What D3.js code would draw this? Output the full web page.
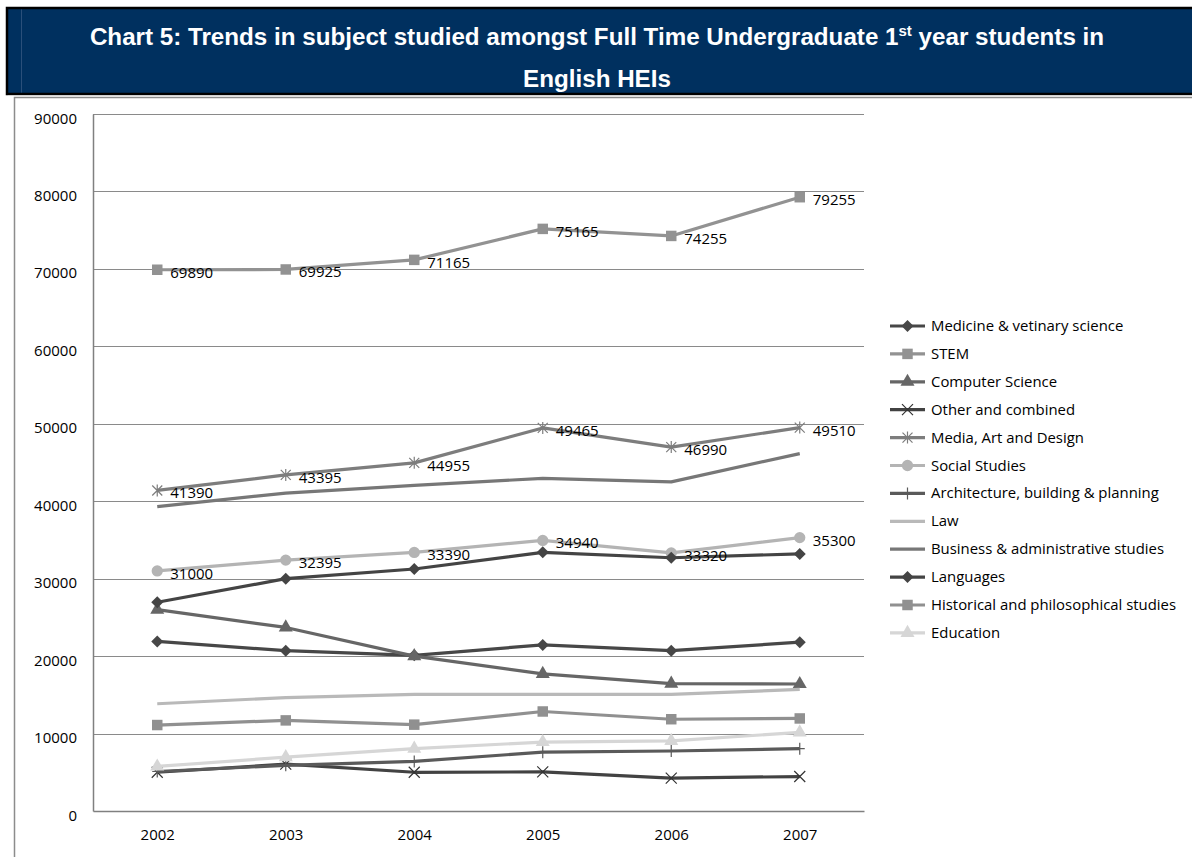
<!DOCTYPE html>
<html>
<head>
<meta charset="utf-8">
<title>Chart 5</title>
<script src="https://cdn.jsdelivr.net/npm/d3@7"></script>
<style>
  html, body { margin: 0; padding: 0; background: #ffffff; }
  svg { display: block; }
  .title { font-family: "Liberation Sans", Arial, sans-serif; font-weight: bold; fill: #ffffff; }
  .tick-label, .data-label, .legend-label { font-family: "Open Sans", "Noto Sans", sans-serif; fill: #000000; }
</style>
</head>
<body>
<div id="chart"></div>
<script>
// ---- data ----
var years = ["2002", "2003", "2004", "2005", "2006", "2007"];
var yTicks = [0, 10000, 20000, 30000, 40000, 50000, 60000, 70000, 80000, 90000];

var medicine     = [21900, 20700, 20100, 21450, 20700, 21800];
var stem         = [69890, 69925, 71165, 75165, 74255, 79255];
var compSci      = [26000, 23700, 20000, 17700, 16450, 16400];
var other        = [5000, 6050, 5000, 5050, 4250, 4450];
var media        = [41390, 43395, 44955, 49465, 46990, 49510];
var social       = [31000, 32395, 33390, 34940, 33320, 35300];
var architecture = [5100, 5900, 6400, 7600, 7750, 8050];
var law          = [13850, 14650, 15050, 15050, 15050, 15700];
var business     = [39300, 41050, 42050, 42950, 42500, 46150];
var languages    = [26950, 30000, 31250, 33400, 32700, 33200];
var historical   = [11100, 11700, 11150, 12850, 11850, 11950];
var education    = [5750, 6950, 8050, 8900, 9050, 10150];

var seriesNames = ["Medicine & vetinary science", "STEM", "Computer Science", "Other and combined",
  "Media, Art and Design", "Social Studies", "Architecture, building & planning", "Law",
  "Business & administrative  studies", "Languages", "Historical and philosophical studies", "Education"];
var seriesValues = [medicine, stem, compSci, other, media, social, architecture, law,
  business, languages, historical, education];
// which series carry value labels
var labelled = ["STEM", "Media, Art and Design", "Social Studies"];

// ---- style per series (grey scale like the office chart) ----
var seriesStyle = {
  "Medicine & vetinary science":          {color: "#474747", marker: "diamond"},
  "STEM":                                 {color: "#929292", marker: "square"},
  "Computer Science":                     {color: "#666666", marker: "triangle"},
  "Other and combined":                   {color: "#424242", marker: "x"},
  "Media, Art and Design":                {color: "#7d7d7d", marker: "star"},
  "Social Studies":                       {color: "#b4b4b4", marker: "circle"},
  "Architecture, building & planning":    {color: "#5a5a5a", marker: "plus"},
  "Law":                                  {color: "#b9b9b9", marker: "none"},
  "Business & administrative  studies":   {color: "#777777", marker: "none"},
  "Languages":                            {color: "#444444", marker: "diamond"},
  "Historical and philosophical studies": {color: "#909090", marker: "square"},
  "Education":                            {color: "#d6d6d6", marker: "triangle"}
};

var width = 1192, height = 857;
var plot = {left: 93, right: 864, top: 114, bottom: 811};

var svg = d3.select("#chart").append("svg")
  .attr("width", width)
  .attr("height", height);

// ---- title banner ----
drawTitle();
function drawTitle(){
  svg.append("rect")
    .attr("x", 7).attr("y", 8)
    .attr("width", width + 10).attr("height", 86)
    .attr("fill", "#00305f")
    .attr("stroke", "#000000")
    .attr("stroke-width", 2.5);
  svg.append("line")
    .attr("x1", 21.5).attr("x2", 21.5)
    .attr("y1", 9.5).attr("y2", 92.5)
    .attr("stroke", "#2a4f7a").attr("stroke-width", 1);
  svg.append("line")
    .attr("x1", 8).attr("x2", width)
    .attr("y1", 95.5).attr("y2", 95.5)
    .attr("stroke", "#d0d0d0").attr("stroke-width", 1);

  var t1 = svg.append("text").attr("class", "title")
    .attr("x", 597).attr("y", 45)
    .attr("text-anchor", "middle")
    .style("font-size", "24.2px");
  t1.append("tspan").text("Chart 5: Trends in subject studied amongst Full Time Undergraduate 1");
  t1.append("tspan").text("st").attr("dy", -9).style("font-size", "15px");
  t1.append("tspan").text(" year students in").attr("dy", 9);

  svg.append("text").attr("class", "title")
    .attr("x", 597).attr("y", 87)
    .attr("text-anchor", "middle")
    .style("font-size", "24.2px")
    .text("English HEIs");
}

// ---- chart frame ----
svg.append("path")
  .attr("d", "M14.5," + height + "V97.5H" + width)
  .attr("fill", "none")
  .attr("stroke", "#8c8c8c")
  .attr("stroke-width", 1.5);

// ---- scales ----
var x = d3.scalePoint()
  .domain(years)
  .range([plot.left, plot.right])
  .padding(0.5);
var y = d3.scaleLinear()
  .domain([0, 90000])
  .range([plot.bottom, plot.top]);

// grid lines
svg.append("g")
  .selectAll("line")
  .data(yTicks.filter(function(d){ return d > 0; }))
  .enter().append("line")
  .attr("x1", plot.left).attr("x2", plot.right)
  .attr("y1", function(d){ return Math.round(y(d)) + 0.5; })
  .attr("y2", function(d){ return Math.round(y(d)) + 0.5; })
  .attr("stroke", "#8a8a8a")
  .attr("stroke-width", 1.2);

// y axis
var yAxis = svg.append("g")
  .attr("transform", "translate(" + plot.left + ",0)")
  .call(d3.axisLeft(y).tickValues(yTicks).tickSize(0).tickPadding(16).tickFormat(d3.format("d")));
yAxis.select(".domain").attr("stroke", "#808080").attr("stroke-width", 1.5);
yAxis.selectAll("text").attr("class", "tick-label").style("font-size", "15px").attr("dy", "0.6em");

// x axis
var xAxis = svg.append("g")
  .attr("transform", "translate(0," + plot.bottom + ")")
  .call(d3.axisBottom(x).tickSize(0).tickPadding(18));
xAxis.select(".domain").attr("stroke", "#808080").attr("stroke-width", 1.5);
xAxis.selectAll("text").attr("class", "tick-label").style("font-size", "15px");

// ---- markers ----
function markerPath(type){
  if(type === "diamond") return "M0,-6L6,0L0,6L-6,0Z";
  if(type === "square") return d3.symbol().type(d3.symbolSquare).size(110)();
  if(type === "triangle") return d3.symbol().type(d3.symbolTriangle).size(85)();
  if(type === "circle") return d3.symbol().type(d3.symbolCircle).size(100)();
  if(type === "x") return "M-5.5,-5.5L5.5,5.5M-5.5,5.5L5.5,-5.5";
  if(type === "star") return "M-5,-5L5,5M-5,5L5,-5M0,-6V6";
  if(type === "plus") return "M0,-6V6M-5,0H5";
  return null;
}
function drawMarker(g, type, color){
  var p = markerPath(type);
  if(!p) return;
  var open = (type === "x" || type === "star" || type === "plus");
  g.append("path")
    .attr("d", p)
    .attr("fill", open ? "none" : color)
    .attr("stroke", open ? (type === "x" ? "#333333" : color) : "none")
    .attr("stroke-width", 1.2);
}

// ---- lines ----
var line = d3.line()
  .x(function(d, i){ return x(years[i]); })
  .y(function(d){ return y(d); });

var seriesG = svg.append("g");
seriesNames.forEach(function(name, si){
  var style = seriesStyle[name];
  var g = seriesG.append("g");
  g.append("path")
    .datum(seriesValues[si])
    .attr("d", line)
    .attr("fill", "none")
    .attr("stroke", style.color)
    .attr("stroke-width", 3.2)
    .attr("stroke-linejoin", "round");
  seriesValues[si].forEach(function(v, i){
    var m = g.append("g").attr("transform", "translate(" + x(years[i]) + "," + y(v) + ")");
    drawMarker(m, style.marker, style.color);
  });
});

// ---- value labels ----
var labelG = svg.append("g");
seriesNames.forEach(function(name, si){
  if(labelled.indexOf(name) < 0) return;
  seriesValues[si].forEach(function(v, i){
    labelG.append("text").attr("class", "data-label")
      .attr("x", x(years[i]) + 13)
      .attr("y", y(v) + 8)
      .style("font-size", "15px")
      .text(v);
  });
});

// ---- legend ----
var legend = svg.append("g").attr("transform", "translate(890,326)");
seriesNames.forEach(function(name, i){
  var style = seriesStyle[name];
  var row = legend.append("g").attr("transform", "translate(0," + (i * 27.9) + ")");
  row.append("line")
    .attr("x1", 0).attr("x2", 35)
    .attr("stroke", style.color)
    .attr("stroke-width", 3.2);
  var m = row.append("g").attr("transform", "translate(17.5,0)");
  drawMarker(m, style.marker, style.color);
  row.append("text").attr("class", "legend-label")
    .attr("x", 41).attr("y", 5)
    .style("font-size", "14.9px")
    .text(name);
});
</script>
</body>
</html>
